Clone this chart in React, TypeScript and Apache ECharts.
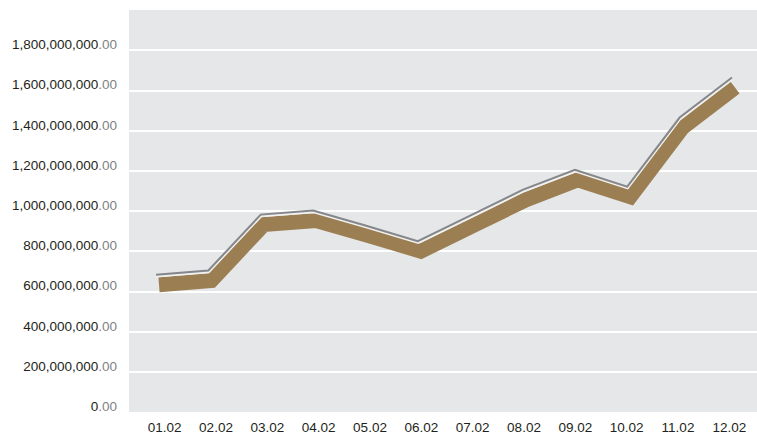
import React, { useEffect, useRef } from "react";
import * as echarts from "echarts";

const categories = ["01.02", "02.02", "03.02", "04.02", "05.02", "06.02", "07.02", "08.02", "09.02", "10.02", "11.02", "12.02"];
const values = [683e6, 704e6, 982e6, 1002e6, 928e6, 850e6, 977e6, 1105e6, 1205e6, 1121e6, 1465e6, 1664e6];
const yMin = 0;
const yMax = 2000e6;
const yStep = 200e6;

const FONT = "'Liberation Sans', Arial, Helvetica, sans-serif";

function fmtY(v: number) {
  const s = Math.round(v).toString().replace(/\B(?=(\d{3})+(?!\d))/g, ",");
  return "{a|" + s + "}{b|.00}";
}

export default function App() {
  const ref = useRef<HTMLDivElement>(null);
  useEffect(() => {
    if (!ref.current) return;
    const chart = echarts.init(ref.current, null, { renderer: "svg" });
    const top = 10;
    const bottom = 22;
    const hiddenY = (gi: number) => ({
      type: "value",
      gridIndex: gi,
      min: yMin,
      max: yMax,
      interval: yStep,
      show: false,
    });
    const hiddenX = (gi: number, gap: boolean) => ({
      type: "category",
      gridIndex: gi,
      data: categories,
      boundaryGap: gap,
      show: false,
    });
    chart.setOption({
      animation: false,
      grid: [
        { left: 129, right: 0, top, bottom, show: true, backgroundColor: "#e6e7e8", borderWidth: 0 },
        { left: 139, right: 2, top, bottom },
        { left: 159, right: 22, top: top + 10, bottom: bottom - 10 },
        { left: 156.5, right: 24.5, top: top + 2, bottom: bottom - 2 },
        { left: 156, right: 25, top, bottom },
      ],
      xAxis: [
        hiddenX(0, true),
        {
          type: "category",
          gridIndex: 1,
          data: categories,
          boundaryGap: true,
          axisLine: { show: false },
          axisTick: { show: false },
          splitLine: { show: false },
          axisLabel: { color: "#231f20", fontSize: 13.5, fontFamily: FONT, margin: 10, interval: 0 },
        },
        hiddenX(2, false),
        hiddenX(3, false),
        hiddenX(4, false),
      ],
      yAxis: [
        {
          type: "value",
          gridIndex: 0,
          min: yMin,
          max: yMax,
          interval: yStep,
          axisLine: { show: false },
          axisTick: { show: false },
          splitLine: {
            show: true,
            showMinLine: false,
            showMaxLine: false,
            lineStyle: { color: "#ffffff", width: 2 },
          },
          axisLabel: {
            showMaxLabel: false,
            margin: 12,
            padding: [0, 0, 11, 0],
            formatter: fmtY,
            rich: {
              a: { color: "#231f20", fontSize: 13.5, fontFamily: FONT },
              b: { color: "#808285", fontSize: 13.5, fontFamily: FONT },
            },
          },
        },
        hiddenY(1),
        hiddenY(2),
        hiddenY(3),
        hiddenY(4),
      ],
      series: [
        {
          type: "line",
          xAxisIndex: 2,
          yAxisIndex: 2,
          data: values,
          symbol: "none",
          z: 3,
          lineStyle: { color: "#9b7f52", width: 15, cap: "butt", join: "miter" },
        },
        {
          type: "line",
          xAxisIndex: 3,
          yAxisIndex: 3,
          data: values,
          symbol: "none",
          z: 4,
          lineStyle: { color: "#f2f2f2", width: 1.5, cap: "butt", join: "miter" },
        },
        {
          type: "line",
          xAxisIndex: 4,
          yAxisIndex: 4,
          data: values,
          symbol: "none",
          z: 5,
          lineStyle: { color: "#85878a", width: 2, cap: "butt", join: "miter" },
        },
      ],
    });
    return () => chart.dispose();
  }, []);
  return <div ref={ref} style={{ width: 757, height: 434, position: "absolute", left: 0, top: 0 }} />;
}
